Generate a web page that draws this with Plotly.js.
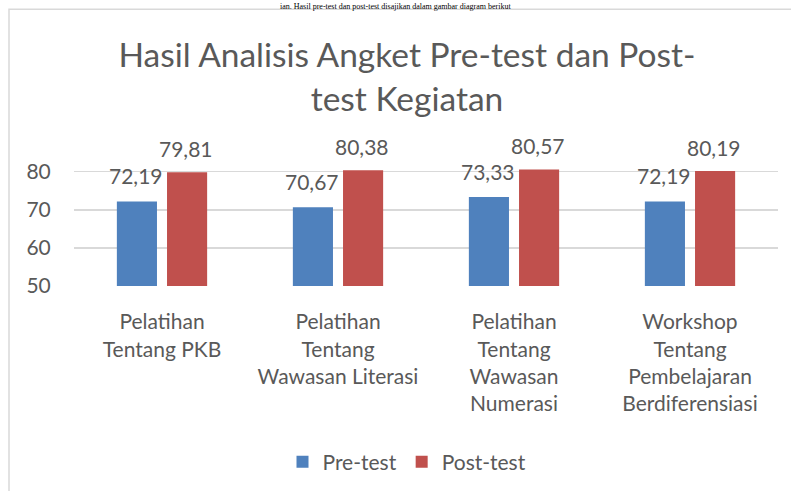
<!DOCTYPE html>
<html>
<head>
<meta charset="utf-8">
<script src="https://cdn.plot.ly/plotly-3.0.1.min.js"></script>
<style>html,body{margin:0;padding:0;background:#fff;}#chart{width:791px;height:491px;}</style>
</head>
<body>
<div id="chart"></div>
<script>
var categories = [
  "Pelatihan<br>Tentang PKB",
  "Pelatihan<br>Tentang<br>Wawasan Literasi",
  "Pelatihan<br>Tentang<br>Wawasan<br>Numerasi",
  "Workshop<br>Tentang<br>Pembelajaran<br>Berdiferensiasi"
];
var preTest = [72.19, 70.67, 73.33, 72.19];
var postTest = [79.81, 80.38, 80.57, 80.19];
var yTicks = [50, 60, 70, 80];
var seriesNames = ["Pre-test", "Post-test"];
var colors = ["#4f81bd", "#c0504d"];
var docText = "ian. Hasil pre-test dan post-test disajikan dalam gambar diagram berikut";

function fmt(v){ return v.toFixed(2).replace(".", ","); }

var FONT = "Lato, 'Open Sans', sans-serif";
var GRAY = "#595959";
var L = 74, R = 13, T = 164, B = 204;
var PW = 791 - L - R, PH = 491 - T - B;

var traces = [
  {type:"bar", name:seriesNames[0], x:categories, y:preTest, marker:{color:colors[0]}, hoverinfo:"skip"},
  {type:"bar", name:seriesNames[1], x:categories, y:postTest, marker:{color:colors[1]}, hoverinfo:"skip"}
];

var annotations = [];
categories.forEach(function(c, i){
  annotations.push({x:c, y:preTest[i], xref:"x", yref:"y", text:fmt(preTest[i]), showarrow:false,
    xshift:-26, yshift:11, yanchor:"bottom", font:{family:FONT, size:21, color:GRAY}});
  annotations.push({x:c, y:postTest[i], xref:"x", yref:"y", text:fmt(postTest[i]), showarrow:false,
    xshift:24, yshift:9, yanchor:"bottom", font:{family:FONT, size:21, color:GRAY}});
});
annotations.push({xref:"paper", yref:"paper", x:(395-L)/PW, y:1+(T-0)/PH, xanchor:"center", yanchor:"top", borderpad:0,
  text:docText, showarrow:false, font:{family:"'Liberation Serif', 'DejaVu Serif', serif", size:8, color:"#000"}});

var layout = {
  width:791, height:491,
  margin:{l:L, r:R, t:T, b:B, pad:0},
  paper_bgcolor:"#fff", plot_bgcolor:"#fff",
  barmode:"group", bargap:0.43, bargroupgap:0.2,
  title:{text:"Hasil Analisis Angket Pre-test dan Post-<br>test Kegiatan", xref:"paper", x:(407-L)/PW, xanchor:"center",
    yref:"container", y:1-(67/491), yanchor:"top", font:{family:FONT, size:33.5, color:GRAY}},
  xaxis:{type:"category", tickfont:{family:FONT, size:21, color:GRAY}, showgrid:false, zeroline:false,
    showline:false, ticks:"outside", ticklen:17, tickcolor:"rgba(0,0,0,0)", automargin:false},
  yaxis:{range:[50, 82], tickvals:yTicks, ticktext:yTicks.map(String), tickfont:{family:FONT, size:21, color:GRAY},
    showgrid:true, gridcolor:"#d9d9d9", gridwidth:1.5, zeroline:false, showline:false, ticks:"outside", ticklen:18,
    tickcolor:"rgba(0,0,0,0)", automargin:false},
  showlegend:true,
  legend:{orientation:"h", x:(407-L)/PW, xanchor:"center", y:(287-462)/PH, yanchor:"middle",
    font:{family:FONT, size:21, color:GRAY}, bgcolor:"rgba(0,0,0,0)", itemwidth:30, traceorder:"normal"},
  annotations:annotations,
  shapes:[{type:"rect", xref:"paper", yref:"paper", x0:(9-L)/PW, x1:1.2, y0:-3, y1:1+(T-8)/PH,
    line:{color:"#d9d9d9", width:1.5}, fillcolor:"rgba(0,0,0,0)", layer:"below"}]
};

Plotly.newPlot("chart", traces, layout, {staticPlot:true, displayModeBar:false});
</script>
</body>
</html>
